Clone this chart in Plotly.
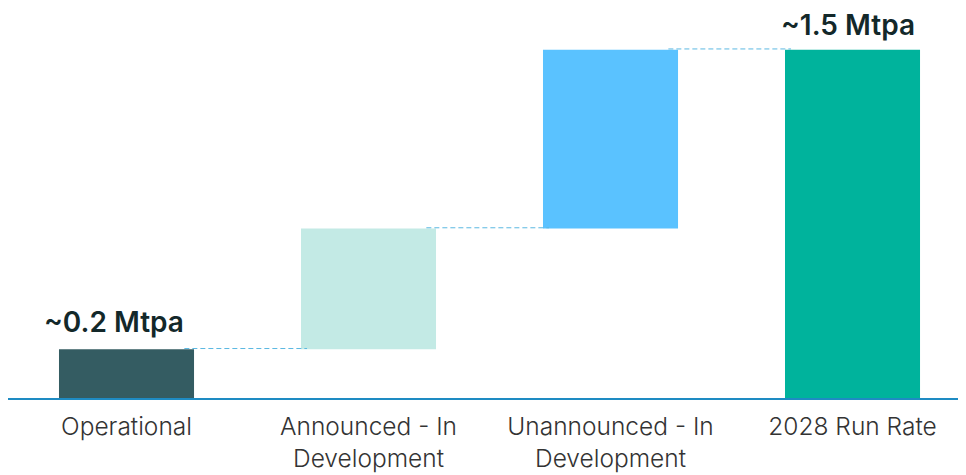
import plotly.graph_objects as go

categories = ["Operational", "Announced - In<br>Development", "Unannounced - In<br>Development", "2028 Run Rate"]
steps = [0.21, 0.52, 0.77]
total = 1.5
colors = ["#345C62", "#C3EAE5", "#5AC2FF", "#00B39C"]
labels = ["~0.2 Mtpa", "", "", "~1.5 Mtpa"]

bases = []
heights = []
cum = 0.0
for s in steps:
    bases.append(cum)
    heights.append(s)
    cum += s
bases.append(0.0)
heights.append(total)
tops = [b + h for b, h in zip(bases, heights)]

bar_w = 0.558
xs = list(range(len(categories)))

fig = go.Figure()
fig.add_trace(go.Bar(
    x=xs, y=heights, base=bases, width=bar_w,
    marker=dict(color=colors, line=dict(width=0)),
    hoverinfo="skip", showlegend=False,
))

shapes = []
for i in range(len(xs) - 1):
    shapes.append(dict(
        type="line", xref="x", yref="y",
        x0=xs[i] + bar_w / 2 - 0.04, x1=xs[i + 1] - bar_w / 2 + 0.025,
        y0=tops[i] + 0.003, y1=tops[i] + 0.003,
        line=dict(color="#5BB8E2", width=1, dash="5px,3px"), layer="above",
    ))

annotations = []
for i, lab in enumerate(labels):
    if lab:
        annotations.append(dict(
            x=xs[i] - (0.052 if i == 0 else 0.019), y=tops[i], xref="x", yref="y",
            text=lab, showarrow=False,
            yanchor="bottom", yshift=(8 if i == 0 else 6),
            font=dict(family="Inter", size=28, color="#13282A", weight=600),
        ))

fig.update_layout(
    width=966, height=475,
    margin=dict(l=0, r=0, t=37.4, b=85),
    paper_bgcolor="white", plot_bgcolor="white",
    shapes=shapes, annotations=annotations,
    xaxis=dict(
        range=[-0.4897, 3.502], tickmode="array", tickvals=xs, ticktext=categories,
        showgrid=False, zeroline=False, showline=True, linecolor="#1E8BC3", linewidth=2,
        ticks="outside", ticklen=6, tickcolor="rgba(0,0,0,0)",
        tickfont=dict(family="Inter", size=24.5, color="#333333", weight=300),
    ),
    yaxis=dict(range=[0, 1.52], visible=False, showgrid=False, zeroline=False),
    font=dict(family="Inter"),
)

fig.write_html("out.html")
